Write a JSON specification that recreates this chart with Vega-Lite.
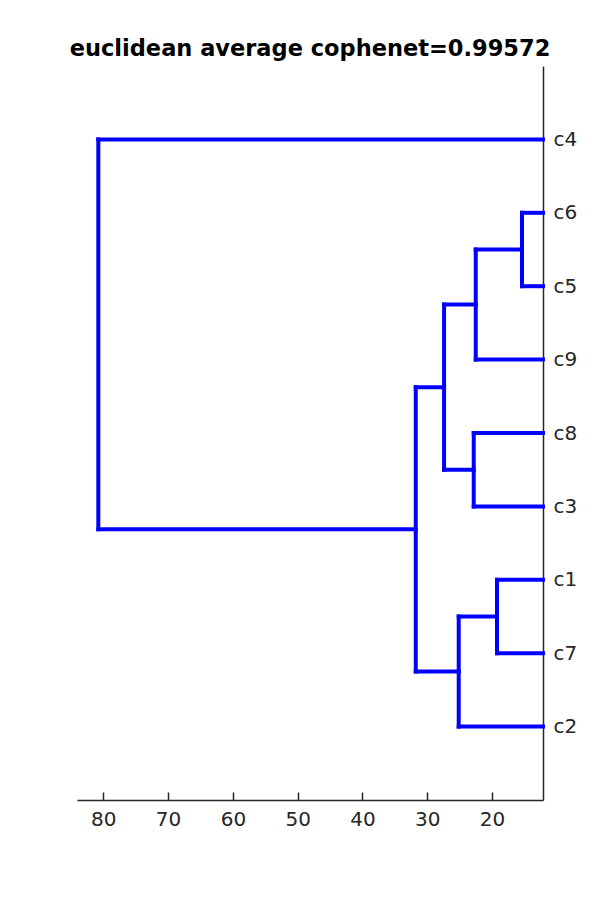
{
  "$schema": "https://vega.github.io/schema/vega-lite/v6.json",
  "width": 466,
  "height": 734,
  "autosize": {"type": "none"},
  "padding": {"left": 77, "top": 66, "right": 57, "bottom": 100},
  "background": "white",
  "title": {
    "text": "euclidean average cophenet=0.99572",
    "font": "DejaVu Sans",
    "fontSize": 22.5,
    "fontWeight": "bold",
    "color": "black",
    "anchor": "middle",
    "offset": 6
  },
  "config": {
    "view": {"stroke": null},
    "axis": {"labelFont": "DejaVu Sans", "labelColor": "#262626", "grid": false, "domainColor": "#262626", "tickColor": "#262626", "title": null}
  },
  "data": {
    "values": [
      {"x": 12.13, "x2": 80.77, "y": 9, "y2": 9},
      {"x": 12.13, "x2": 15.37, "y": 8, "y2": 8},
      {"x": 12.13, "x2": 15.37, "y": 7, "y2": 7},
      {"x": 15.37, "x2": 15.37, "y": 7, "y2": 8},
      {"x": 15.37, "x2": 22.51, "y": 7.5, "y2": 7.5},
      {"x": 12.13, "x2": 22.51, "y": 6, "y2": 6},
      {"x": 22.51, "x2": 22.51, "y": 6, "y2": 7.5},
      {"x": 12.13, "x2": 22.82, "y": 5, "y2": 5},
      {"x": 12.13, "x2": 22.82, "y": 4, "y2": 4},
      {"x": 22.82, "x2": 22.82, "y": 4, "y2": 5},
      {"x": 22.51, "x2": 27.4, "y": 6.75, "y2": 6.75},
      {"x": 22.82, "x2": 27.4, "y": 4.5, "y2": 4.5},
      {"x": 27.4, "x2": 27.4, "y": 4.5, "y2": 6.75},
      {"x": 12.13, "x2": 19.23, "y": 3, "y2": 3},
      {"x": 12.13, "x2": 19.23, "y": 2, "y2": 2},
      {"x": 19.23, "x2": 19.23, "y": 2, "y2": 3},
      {"x": 19.23, "x2": 25.14, "y": 2.5, "y2": 2.5},
      {"x": 12.13, "x2": 25.14, "y": 1, "y2": 1},
      {"x": 25.14, "x2": 25.14, "y": 1, "y2": 2.5},
      {"x": 27.4, "x2": 31.77, "y": 5.625, "y2": 5.625},
      {"x": 25.14, "x2": 31.77, "y": 1.75, "y2": 1.75},
      {"x": 31.77, "x2": 31.77, "y": 1.75, "y2": 5.625},
      {"x": 31.77, "x2": 80.77, "y": 3.6875, "y2": 3.6875},
      {"x": 80.77, "x2": 80.77, "y": 3.6875, "y2": 9}
    ]
  },
  "mark": {"type": "rule", "color": "#0000ff", "strokeWidth": 4, "strokeCap": "square"},
  "encoding": {
    "x": {
      "field": "x", "type": "quantitative",
      "scale": {"domain": [12.13, 84.06], "reverse": true, "nice": false, "zero": false},
      "axis": {"values": [20, 30, 40, 50, 60, 70, 80], "tickSize": -8, "labelFontSize": 20, "labelPadding": 17, "domainWidth": 1.5, "tickWidth": 1.5}
    },
    "x2": {"field": "x2"},
    "y": {
      "field": "y", "type": "quantitative",
      "scale": {"domain": [0, 10], "nice": false, "zero": false},
      "axis": {"orient": "right", "values": [1, 2, 3, 4, 5, 6, 7, 8, 9], "ticks": false, "labelFontSize": 20, "labelPadding": 10, "domainWidth": 1.5,
        "labelExpr": "['', 'c2', 'c7', 'c1', 'c3', 'c8', 'c9', 'c5', 'c6', 'c4'][datum.value]"}
    },
    "y2": {"field": "y2"}
  }
}
